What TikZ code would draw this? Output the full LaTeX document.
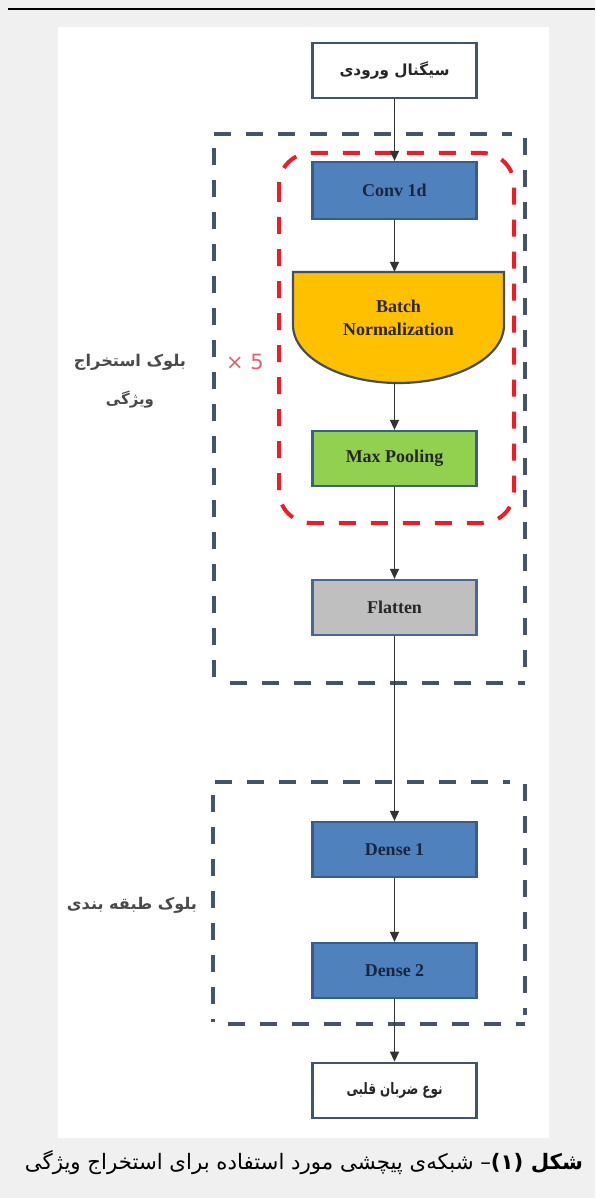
\documentclass[tikz,border=0pt]{standalone}
\usepackage{fontspec}
\usepackage{graphicx}
\setmainfont{Liberation Serif}
\newfontfamily\ar[Script=Arabic]{DejaVu Sans}
\newfontfamily\dv{DejaVu Sans}
\TeXXeTstate=1
\usetikzlibrary{arrows.meta}
\definecolor{pagegray}{HTML}{F0F0F0}
\definecolor{boxedge}{HTML}{3E4F6E}
\definecolor{bluefill}{HTML}{4F81BD}
\definecolor{blueedge}{HTML}{385D8A}
\definecolor{bnfill}{HTML}{FFC000}
\definecolor{bnedge}{HTML}{3E4F6E}
\definecolor{mpfill}{HTML}{92D050}
\definecolor{mpedge}{HTML}{3B5E8C}
\definecolor{flfill}{HTML}{BFBFBF}
\definecolor{fledge}{HTML}{46679A}
\definecolor{ioedge}{HTML}{3F5472}
\definecolor{dashblue}{HTML}{44546A}
\definecolor{dashred}{HTML}{EE1C25}
\definecolor{arrcol}{HTML}{333333}
\definecolor{boxtext}{HTML}{262626}
\definecolor{navytext}{HTML}{1A2640}
\definecolor{sidegray}{HTML}{4A4A4A}
\definecolor{xred}{HTML}{E5606E}
\begin{document}
\begin{tikzpicture}[x=1pt,y=-1pt,
  box/.style={draw=boxedge, line width=2.2pt, minimum width=164pt, minimum height=55pt, inner sep=0pt, font=\fontsize{18}{20}\selectfont\bfseries, text=boxtext},
  iobox/.style={box, fill=white, draw=ioedge, line width=2.8pt},
  bluebox/.style={box, fill=bluefill, draw=blueedge, text=navytext},
  mpbox/.style={box, fill=mpfill, draw=mpedge},
  flbox/.style={box, fill=flfill, draw=fledge},
  arr/.style={draw=arrcol, line width=1.5pt, -{Triangle[length=10pt,width=9pt]}},
  bluedash/.style={draw=dashblue, line width=3.5pt, dash pattern=on 17pt off 15pt},
  reddash/.style={draw=dashred, line width=4pt, dash pattern=on 17pt off 15pt},
  side/.style={text=sidegray, inner sep=0pt}
]
\useasboundingbox (0,0) rectangle (595,1198);
\fill[pagegray] (0,0) rectangle (595,1198);
\fill[black] (8,8) rectangle (595,10.5);
\fill[white] (58,27) rectangle (549,1138);

% feature extraction block frame
\draw[bluedash] (214,134) -- (512,134);
\draw[bluedash] (525,138) -- (525,668);
\draw[bluedash] (230,683) -- (525,683);
\draw[bluedash] (214,148) -- (214,682);

% repeated block frame
\draw[reddash, rounded corners=32pt] (279,153) rectangle (514,523);

% classification block frame
\draw[bluedash] (215,782) -- (510,782);
\draw[bluedash] (525,784) -- (525,1015);
\draw[bluedash] (228,1024) -- (525,1024);
\draw[bluedash] (213,795) -- (213,1022);

% nodes
\node[iobox] (in) at (394.5,70.5) {\resizebox{110pt}{!}{\ar\beginR سیگنال ورودی\endR}};
\node[bluebox, minimum height=57pt] (conv) at (394.5,190.5) {Conv 1d};

\node[minimum width=211pt, minimum height=111pt, inner sep=0pt] (bn) at (398.5,327.5) {};
\draw[fill=bnfill, draw=bnedge, line width=2.2pt] (504,325) -- (504,272) -- (293,272) -- (293,325)
   arc[start angle=180, end angle=0, x radius=105.5, y radius=58] -- cycle;
\node[font=\fontsize{18}{23}\selectfont\bfseries, text=boxtext, align=center] (bntext) at (398.5,318) {Batch\\Normalization};

\node[mpbox] (mp) at (394.5,458.5) {Max Pooling};
\node[flbox] (fl) at (394.5,607.5) {Flatten};
\node[bluebox] (d1) at (394.5,849.5) {Dense 1};
\node[bluebox] (d2) at (394.5,970.5) {Dense 2};
\node[iobox] (out) at (394.5,1090.5) {\resizebox{96pt}{12pt}{\ar\beginR نوع ضربان قلبی\endR}};

% connectors
\draw[arr] (in.south) -- (conv.north);
\draw[arr] (conv.south) -- (conv.south |- bn.north);
\draw[arr] (conv.south |- bn.south) -- (mp.north);
\draw[arr] (mp.south) -- (fl.north);
\draw[arr] (fl.south) -- (d1.north);
\draw[arr] (d1.south) -- (d2.north);
\draw[arr] (d2.south) -- (out.north);

% side labels
\node[side] (lab1) at (130,362) {\resizebox{112pt}{!}{\ar\bfseries\beginR بلوک استخراج\endR}};
\node[side] (lab1b) at (130,400) {\resizebox{48pt}{!}{\ar\bfseries\beginR ویژگی\endR}};
\node[side] (lab2) at (132,905) {\resizebox{130pt}{!}{\ar\bfseries\beginR بلوک طبقه بندی\endR}};
\node[text=xred, font=\dv\fontsize{21}{24}\selectfont, inner sep=0pt] (x5) at (245,362) {× 5};

% caption
\node[inner sep=0pt, text=black] (cap) at (304,1163) {\resizebox{558pt}{!}{\ar\beginR\textbf{شکل (۱)}– شبکه‌ی پیچشی مورد استفاده برای استخراج ویژگی\endR}};
\end{tikzpicture}
\end{document}
